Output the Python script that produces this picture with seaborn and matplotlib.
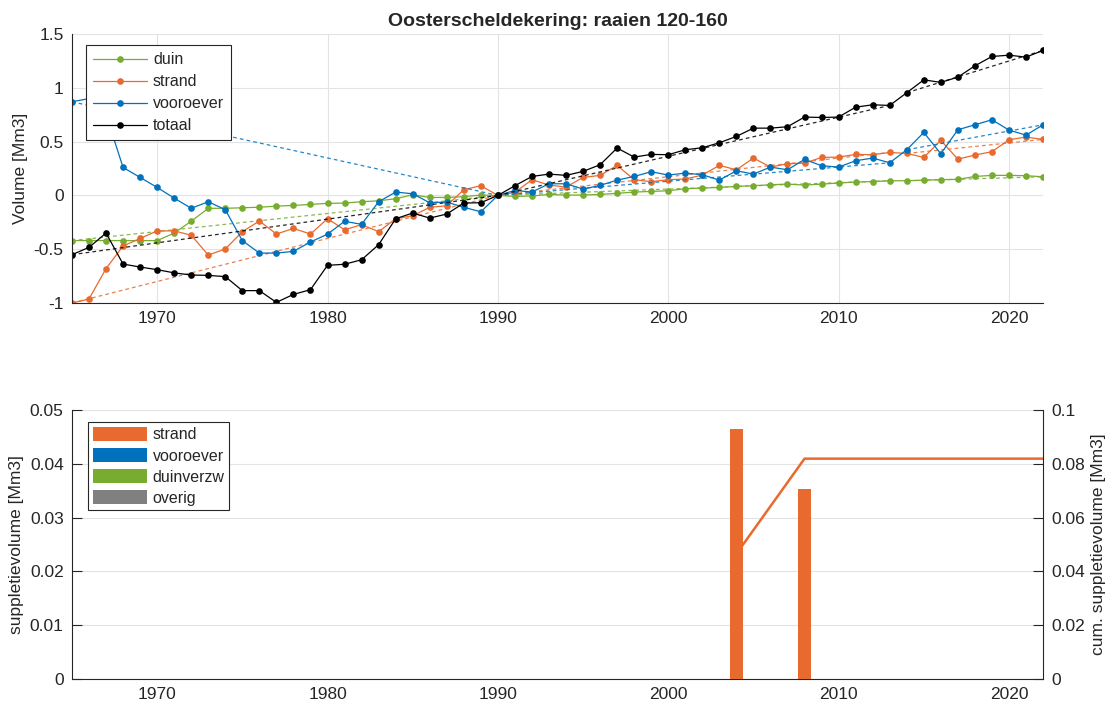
import matplotlib
matplotlib.use('Agg')
import matplotlib.pyplot as plt
from matplotlib.patches import Patch
from matplotlib.ticker import FuncFormatter, MultipleLocator
import seaborn as sns

# data
years = list(range(1965, 2023))

duin = [-0.42, -0.42, -0.42, -0.42, -0.42, -0.42, -0.35, -0.24, -0.12, -0.12,
        -0.115, -0.11, -0.10, -0.093, -0.084, -0.074, -0.071, -0.059, -0.05, -0.031,
        0.006, -0.019, -0.019, -0.012, 0.003, 0.0,
        -0.009, -0.006, 0.009, 0.003, 0.003, 0.009, 0.019, 0.031, 0.037, 0.043,
        0.062, 0.068, 0.074, 0.084, 0.09, 0.099, 0.105, 0.096, 0.105, 0.115,
        0.124, 0.128, 0.136, 0.136, 0.142, 0.146, 0.149, 0.176, 0.186, 0.186,
        0.183, 0.173]

strand = [-1.0, -0.963, -0.68, -0.47, -0.40, -0.33, -0.33, -0.37, -0.554, -0.498,
          -0.337, -0.238, -0.359, -0.307, -0.359, -0.217, -0.319, -0.272, -0.337, -0.217,
          -0.189, -0.111, -0.096, 0.053, 0.09, 0.0,
          0.028, 0.146, 0.096, 0.077, 0.167, 0.186, 0.279, 0.146, 0.127, 0.146,
          0.152, 0.189, 0.279, 0.238, 0.347, 0.263, 0.294, 0.30, 0.353, 0.356,
          0.381, 0.378, 0.399, 0.39, 0.353, 0.511, 0.337, 0.375, 0.406, 0.517,
          0.542, 0.52]

vooroever = [0.87, 0.90, 0.75, 0.26, 0.167, 0.074, -0.025, -0.12, -0.059, -0.133,
             -0.42, -0.536, -0.536, -0.52, -0.433, -0.36, -0.241, -0.269, -0.059, 0.031,
             0.015, -0.068, -0.062, -0.111, -0.152, 0.0,
             0.046, 0.031, 0.108, 0.108, 0.059, 0.093, 0.142, 0.176, 0.22, 0.189,
             0.207, 0.192, 0.142, 0.229, 0.198, 0.263, 0.238, 0.334, 0.276, 0.263,
             0.322, 0.347, 0.303, 0.424, 0.585, 0.387, 0.61, 0.656, 0.703, 0.607,
             0.56, 0.656]

totaal = [-0.551, -0.483, -0.35, -0.638, -0.666, -0.69, -0.72, -0.74, -0.743, -0.755,
          -0.885, -0.885, -0.994, -0.92, -0.876, -0.65, -0.64, -0.598, -0.458, -0.217,
          -0.164, -0.211, -0.173, -0.071, -0.068, 0.0,
          0.09, 0.176, 0.198, 0.186, 0.223, 0.285, 0.44, 0.356, 0.381, 0.378,
          0.424, 0.443, 0.489, 0.548, 0.625, 0.625, 0.638, 0.728, 0.724, 0.728,
          0.82, 0.842, 0.836, 0.954, 1.074, 1.05, 1.099, 1.204, 1.291, 1.303,
          1.285, 1.347]

trend_periods = [(1965, 1990), (1990, 2013), (2014, 2022)]

supp_years = [2004, 2008]
supp_strand = [0.0465, 0.0354]
cum_years = [2004, 2008, 2022]
cum_strand = [0.0465, 0.0819, 0.0819]

supp_labels = ['strand', 'vooroever', 'duinverzw', 'overig']

green = '#77AC30'
orange = '#E96A2E'
blue = '#0072BD'
black = '#000000'
grey = '#808080'
axcol = '#262626'

sns.set_style('white')
plt.rcParams['font.family'] = ['Liberation Sans', 'DejaVu Sans']
plt.rcParams['axes.unicode_minus'] = False

fig = plt.figure(figsize=(11.14, 7.05), dpi=100)
ax1 = fig.add_axes([0.0646, 0.5702, 0.8717, 0.3816])
ax2 = fig.add_axes([0.0646, 0.0369, 0.8717, 0.3816])
ax3 = ax2.twinx()

fmt = FuncFormatter(lambda v, p: f'{v:g}')

# top panel: volumes
series = [('duin', duin, green), ('strand', strand, orange),
          ('vooroever', vooroever, blue), ('totaal', totaal, black)]
for name, vals, col in series:
    sns.lineplot(x=years, y=vals, ax=ax1, color=col, marker='o', markersize=4.8,
                 markeredgewidth=0, linewidth=0.9, label=name)
    for y0, y1 in trend_periods:
        i0, i1 = years.index(y0), years.index(y1)
        ax1.plot([y0, y1], [vals[i0], vals[i1]], color=col, linestyle='--',
                 linewidth=0.9, dashes=(3, 2.5), alpha=0.85)

ax1.set_xlim(1965, 2022)
ax1.set_ylim(-1, 1.5)
ax1.xaxis.set_major_locator(MultipleLocator(10))
ax1.yaxis.set_major_locator(MultipleLocator(0.5))
ax1.yaxis.set_major_formatter(fmt)
ax1.set_ylabel('Volume [Mm3]', fontsize=12.5, color=axcol)
ax1.set_xlabel('')
ax1.set_title('Oosterscheldekering: raaien 120-160', fontsize=14,
              fontweight='bold', pad=6)
leg1 = ax1.legend(loc='upper left', bbox_to_anchor=(0.0144, 0.959), borderaxespad=0,
                  fontsize=11.5, frameon=True, fancybox=False, framealpha=1,
                  edgecolor=axcol, handlelength=3.4, labelspacing=0.44,
                  borderpad=0.45, handletextpad=0.35)
leg1.get_frame().set_linewidth(0.8)

# bottom panel: nourishments
sns.barplot(x=supp_years, y=supp_strand, ax=ax2, native_scale=True, width=0.2,
            color=orange, saturation=1, errorbar=None, linewidth=0, zorder=3)
sns.lineplot(x=cum_years, y=cum_strand, ax=ax3, color=orange, linewidth=1.8)

ax2.set_xlim(1965, 2022)
ax2.set_ylim(0, 0.05)
ax3.set_ylim(0, 0.1)
ax2.xaxis.set_major_locator(MultipleLocator(10))
ax2.yaxis.set_major_locator(MultipleLocator(0.01))
ax3.yaxis.set_major_locator(MultipleLocator(0.02))
ax2.yaxis.set_major_formatter(fmt)
ax3.yaxis.set_major_formatter(fmt)
ax2.set_ylabel('suppletievolume [Mm3]', fontsize=12.5, color=axcol)
ax3.set_ylabel('cum. suppletievolume [Mm3]', fontsize=12.5, color=axcol)
ax2.set_xlabel('')
# bars above the cumulative line, grid below both
ax2.set_zorder(ax3.get_zorder() + 1)
ax2.patch.set_visible(False)

handles = [Patch(facecolor=c, edgecolor='none') for c in (orange, blue, green, grey)]
leg2 = ax2.legend(handles, supp_labels, loc='upper left',
                  bbox_to_anchor=(0.0165, 0.955), borderaxespad=0, fontsize=11.5,
                  frameon=True, fancybox=False, framealpha=1, edgecolor=axcol,
                  handlelength=3.4, handleheight=1.0, labelspacing=0.34,
                  borderpad=0.3, handletextpad=0.35)
leg2.get_frame().set_linewidth(0.8)

# MATLAB-like styling
for ax in (ax1, ax2):
    ax.spines['top'].set_visible(False)
    ax.spines['right'].set_visible(False)
    for s in ('left', 'bottom'):
        ax.spines[s].set_color(axcol)
        ax.spines[s].set_linewidth(0.8)
    ax.tick_params(direction='in', length=7, width=0.8, colors=axcol,
                   labelsize=12.5, pad=6)
ax1.grid(True, color='#E3E3E3', linewidth=0.8)
ax1.set_axisbelow(True)
ax2.grid(False)
ax3.grid(True, color='#E3E3E3', linewidth=0.8)
ax3.set_axisbelow(True)
for s in ('top', 'left', 'bottom'):
    ax3.spines[s].set_visible(False)
ax3.spines['right'].set_color(axcol)
ax3.spines['right'].set_linewidth(0.8)
ax3.tick_params(direction='in', length=7, width=0.8, colors=axcol,
                labelsize=12.5, pad=6)

fig.savefig('out.png', dpi=100)
